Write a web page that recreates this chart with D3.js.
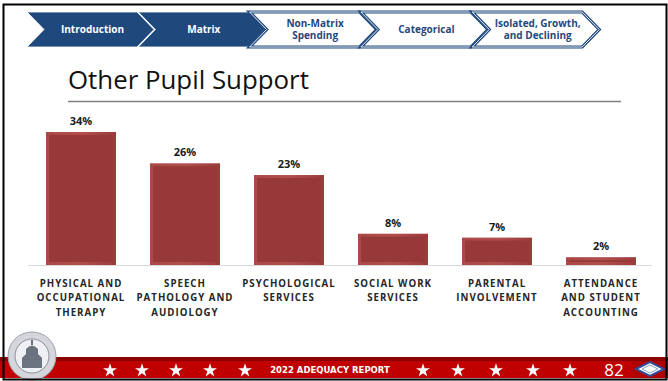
<!DOCTYPE html>
<html>
<head>
<meta charset="utf-8">
<script src="https://cdn.jsdelivr.net/npm/d3@7"></script>
<style>
  html, body { margin: 0; padding: 0; background: #fff; }
  svg { display: block; }
</style>
</head>
<body>
<div id="chart"></div>
<script>
// chart data
var categories = [
    ["PHYSICAL AND", "OCCUPATIONAL", "THERAPY"],
    ["SPEECH", "PATHOLOGY AND", "AUDIOLOGY"],
    ["PSYCHOLOGICAL", "SERVICES"],
    ["SOCIAL WORK", "SERVICES"],
    ["PARENTAL", "INVOLVEMENT"],
    ["ATTENDANCE", "AND STUDENT", "ACCOUNTING"]
];
var shares = [34, 26, 23, 8, 7, 2];

var navSteps = [["Introduction"], ["Matrix"], ["Non-Matrix", "Spending"], ["Categorical"], ["Isolated, Growth,", "and Declining"]];
var navDone = 2;

var title = "Other Pupil Support";
var footerText = "2022 ADEQUACY REPORT";
var pageNum = "82";

var width = 668, height = 381;
var blue = "#1f497d";

var svg = d3.select("#chart").append("svg")
    .attr("width", width)
    .attr("height", height);

// ---- nav chevrons ----
var navX = d3.scaleBand().domain(d3.range(navSteps.length)).range([27, 27 + 111.3 * 5]);
var chevW = 127, chevTop = 12, chevBot = 47, depth = 17;
function chevron(x0) {
    var mid = (chevTop + chevBot) / 2;
    return "M" + x0 + "," + chevTop +
        "L" + (x0 + chevW - depth) + "," + chevTop +
        "L" + (x0 + chevW) + "," + mid +
        "L" + (x0 + chevW - depth) + "," + chevBot +
        "L" + x0 + "," + chevBot +
        "L" + (x0 + depth) + "," + mid + "Z";
}
var nav = svg.append("g").selectAll("g")
    .data(navSteps)
    .enter().append("g");
nav.append("path")
    .attr("d", function(d, i){ return chevron(navX(i)); })
    .style("fill", function(d, i){ return i < navDone ? blue : "#fff"; })
    .style("stroke", function(d, i){ return i < navDone ? "#fff" : blue; })
    .style("stroke-width", function(d, i){ return i < navDone ? 0.8 : 3.2; })
    .style("stroke-linejoin", "miter");
nav.filter(function(d, i){ return i >= navDone; }).append("path")
    .attr("d", function(d, i){ return chevron(navX(i + navDone)); })
    .style("fill", "none")
    .style("stroke", "#fff")
    .style("stroke-width", 0.9);
nav.append("text")
    .attr("text-anchor", "middle")
    .style("font-family", "'Open Sans', sans-serif")
    .style("font-weight", "bold")
    .style("font-size", "10px")
    .style("fill", function(d, i){ return i < navDone ? "#fff" : blue; })
    .each(function(d, i){
        var cx = navX(i) + chevW / 2 + 2;
        var t = d3.select(this);
        d.forEach(function(line, j){
            t.append("tspan")
                .attr("x", cx)
                .attr("y", 33 + (j - (d.length - 1) / 2) * 12.5)
                .text(line);
        });
    });

// ---- title ----
var titleText = svg.append("text")
    .attr("x", 68)
    .attr("y", 89)
    .style("font-family", "'Open Sans', sans-serif")
    .style("font-size", "24px")
    .style("fill", "#111")
    .text(title);
var tw = titleText.node().getComputedTextLength();
titleText.style("font-size", (24 * 241 / tw) + "px");
svg.append("line")
    .attr("x1", 68).attr("x2", 621)
    .attr("y1", 101.5).attr("y2", 101.5)
    .style("stroke", "#7f7f7f")
    .style("stroke-width", 1.3);

// ---- bars ----
var xScale = d3.scaleBand()
    .domain(d3.range(categories.length))
    .range([29, 653])
    .paddingInner(0.327)
    .paddingOuter(0.1635);
var yScale = d3.scaleLinear()
    .domain([0, 35])
    .range([265, 128.1]);

svg.append("line")
    .attr("x1", 28).attr("x2", 652)
    .attr("y1", yScale(0) + 0.5).attr("y2", yScale(0) + 0.5)
    .style("stroke", "#d9d9d9")
    .style("stroke-width", 1);

var defs = svg.append("defs");
var grad = defs.append("linearGradient").attr("id", "bevel").attr("x1", 0).attr("x2", 1).attr("y1", 0).attr("y2", 0);
grad.append("stop").attr("offset", "0%").attr("stop-color", "#a94846");
grad.append("stop").attr("offset", "50%").attr("stop-color", "#b24f4d");
grad.append("stop").attr("offset", "100%").attr("stop-color", "#9a3b3a");

var bars = svg.append("g").selectAll("g")
    .data(shares)
    .enter().append("g");
bars.append("rect")
    .attr("x", function(d, i){ return xScale(i); })
    .attr("y", function(d){ return yScale(d); })
    .attr("width", xScale.bandwidth())
    .attr("height", function(d){ return yScale(0) - yScale(d); })
    .style("fill", "url(#bevel)");
bars.append("rect")
    .attr("x", function(d, i){ return xScale(i) + 3; })
    .attr("y", function(d){ return yScale(d) + 3; })
    .attr("width", xScale.bandwidth() - 6)
    .attr("height", function(d){ return Math.max(0, yScale(0) - yScale(d) - 6); })
    .style("fill", "#963938");
bars.append("text")
    .attr("x", function(d, i){ return xScale(i) + xScale.bandwidth() / 2; })
    .attr("y", function(d){ return yScale(d) - 7; })
    .attr("text-anchor", "middle")
    .style("font-family", "'Open Sans', sans-serif")
    .style("font-weight", "bold")
    .style("font-size", "11px")
    .style("fill", "#1a1a1a")
    .text(function(d){ return d + "%"; });

svg.append("g").selectAll("text")
    .data(categories)
    .enter().append("text")
    .attr("text-anchor", "middle")
    .style("font-family", "'Open Sans', sans-serif")
    .style("font-weight", "bold")
    .style("font-size", "9.7px")
    .style("letter-spacing", "1px")
    .style("fill", "#262626")
    .each(function(d, i){
        var cx = xScale(i) + xScale.bandwidth() / 2;
        var t = d3.select(this);
        d.forEach(function(line, j){
            t.append("tspan")
                .attr("x", cx)
                .attr("y", 286.5 + j * 14.6)
                .text(line);
        });
    });

// ---- footer ----
svg.append("rect").attr("x", 0).attr("y", 357).attr("width", width).attr("height", 21).style("fill", "#c00000");
svg.append("rect").attr("x", 0).attr("y", 357).attr("width", width).attr("height", 4).style("fill", "#8a0000");
svg.append("rect").attr("x", 632).attr("y", 361).attr("width", 34).attr("height", 17).style("fill", "#b00000");

var starX = [110, 142, 176, 210, 245, 423, 458, 496, 533, 570];
var star = d3.symbol().type(d3.symbolStar).size(60);
svg.append("g").selectAll("path")
    .data(starX)
    .enter().append("path")
    .attr("d", star)
    .attr("transform", function(d){ return "translate(" + d + ",370.5)"; })
    .style("fill", "#fff");

svg.append("text")
    .attr("x", 330).attr("y", 372.5)
    .attr("text-anchor", "middle")
    .style("font-family", "'DejaVu Sans', sans-serif")
    .style("font-weight", "bold")
    .style("font-size", "8.5px")
    .style("fill", "#fff")
    .text(footerText);
svg.append("text")
    .attr("x", 614).attr("y", 376)
    .attr("text-anchor", "middle")
    .style("font-family", "'Open Sans', sans-serif")
    .style("font-size", "17px")
    .style("fill", "#fff")
    .text(pageNum);

// right emblem
svg.append("path")
    .attr("d", "M636,369L650,362L664,369L650,376Z")
    .style("fill", "#fff")
    .style("stroke", "#2d4f9a")
    .style("stroke-width", 2);
svg.append("path")
    .attr("d", "M642,369L650,365L658,369L650,373Z")
    .style("fill", "none")
    .style("stroke", "#8aa0c8")
    .style("stroke-width", 1);

// left seal
var seal = svg.append("g").attr("transform", "translate(32,356)");
seal.append("circle").attr("r", 24).style("fill", "#d4d6dc").style("stroke", "#9aa0aa").style("stroke-width", 1);
seal.append("circle").attr("r", 17).style("fill", "#eef0f3").style("stroke", "#8a909a").style("stroke-width", 1);
seal.append("path")
    .attr("d", "M-10,12L-10,2L-6,-2L-6,-7Q0,-14 6,-7L6,-2L10,2L10,12Z")
    .style("fill", "#6b7280");
seal.append("rect").attr("x", -1).attr("y", -16).attr("width", 2).attr("height", 5).style("fill", "#6b7280");

// slide frame
svg.append("rect")
    .attr("x", 3.5).attr("y", 4.5)
    .attr("width", width - 5).attr("height", height - 6)
    .style("fill", "none")
    .style("stroke", "#000")
    .style("stroke-width", 2);
</script>
</body>
</html>
